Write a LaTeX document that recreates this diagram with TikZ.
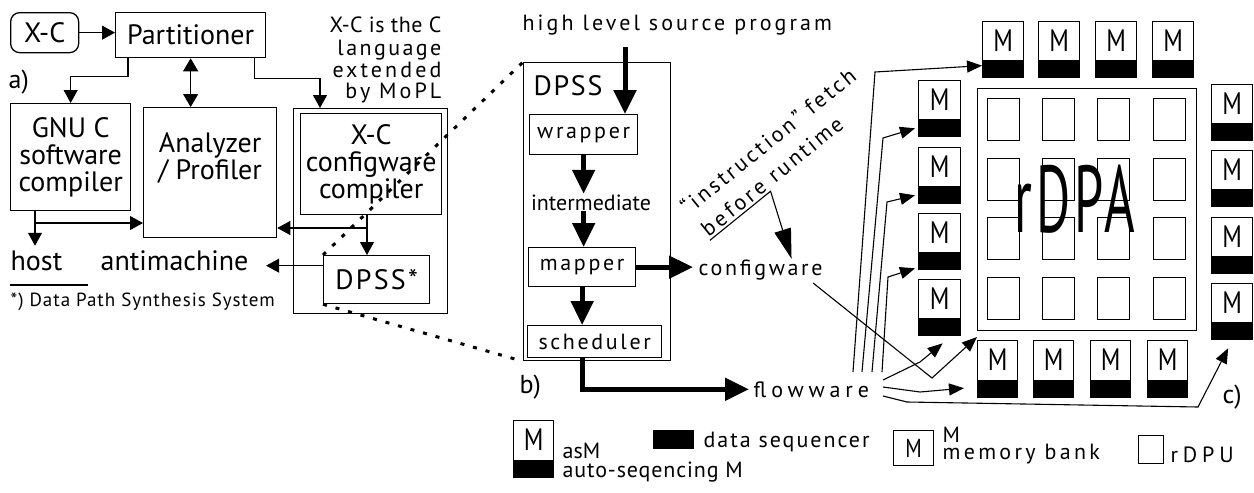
\documentclass[tikz,border=0pt]{standalone}
\usepackage{graphicx}
\usepackage{fontspec}
\setmainfont{PT Sans}
\usetikzlibrary{arrows.meta,calc}
\newcommand\fs[2]{\fontsize{#1}{#2}\selectfont}
\newcommand\ls[1]{\addfontfeatures{LetterSpace=#1}}
\newcommand\Mch{\scalebox{0.8}[1]{\fs{31}{31}M}}
\newcommand\Msm{\scalebox{0.8}[1]{\fs{26}{26}M}}
\newcommand\asmb[5]{%
  \node[boxst,minimum width=#4,minimum height=#5] (#1) at (#2,#3) {};
  \fill (#1.south west) rectangle ([yshift=18pt]#1.south east);
  \node[txt] at ([yshift=-19.5pt]#1.north) {\Mch};}
\begin{document}
\begin{tikzpicture}[x=1pt,y=-1pt,line width=1.3pt,
  boxst/.style={draw,inner sep=0pt,anchor=north west,align=center},
  txt/.style={inner sep=0pt},
  arr/.style={line width=1.1pt,-{Triangle[length=13pt,width=14pt]}},
  darr/.style={line width=1.1pt,{Triangle[length=13pt,width=15pt]}-{Triangle[length=13pt,width=15pt]}},
  arrs/.style={line width=1.1pt,-{Triangle[length=15pt,width=12pt]}},
  tarr/.style={line width=5pt,-{Triangle[length=24pt,width=22pt]}},
  dotl/.style={line width=3pt,dash pattern=on 4pt off 9pt},
  fbig/.style={font=\fs{28}{27}},
  fmid/.style={font=\fs{22}{22}},
]
\useasboundingbox (0,0) rectangle (1254,493);
% ---------------- panel a
\node[boxst,rounded corners=9pt,minimum width=68pt,minimum height=40pt,fbig] (xc) at (10,12) {X-C};
\node[boxst,minimum width=150pt,minimum height=45pt,fbig] (part) at (115,12) {Partitioner};
\node[txt,anchor=base west,font=\fs{26}{26}] (la) at (8,88) {a)};
\node[boxst,minimum width=120pt,minimum height=107pt,fbig] (gnu) at (10,103) {GNU C\\software\\compiler};
\node[boxst,minimum width=133pt,minimum height=130pt,fbig] (ana) at (143,107) {Analyzer\\/ Profiler\\[6pt]};
\node[boxst,minimum width=154pt,minimum height=205pt] (xcc) at (293,108) {};
\node[boxst,minimum width=141pt,minimum height=101pt,fbig] (xcci) at (300,113) {X-C\\configware\\compiler};
\node[boxst,minimum width=106pt,minimum height=48pt,fbig] (dpss) at (323,255) {\ls{8}DPSS*};
\node[txt,anchor=base east,fmid] (n1) at (442,32) {\ls{2}X-C is the C};
\node[txt,anchor=base east,fmid] (n2) at (442,55) {\ls{11}language};
\node[txt,anchor=base east,fmid] (n3) at (442,77) {\ls{14}extended};
\node[txt,anchor=base east,fmid] (n4) at (442,98) {\ls{14}by MoPL};
\node[txt,anchor=base west,fbig] (host) at (10,270) {host};
\node[txt,anchor=base west,fbig] (anti) at (100,270) {antimachine};
\node[txt,anchor=base west,font=\fs{19}{19}\ls{5}] (fn) at (10,306) {*) Data Path Synthesis System};
\draw[line width=1.1pt] (10,285) -- (88,285);
\draw[arr] (xc.east) -- (xc.east -| part.west);
\draw[arr] ([xshift=13pt]part.south west) -- ++(0,18) -| (gnu.north);
\draw[darr] (part.south) -- (part.south |- ana.north);
\draw[arr] ([xshift=-12pt]part.south east) -- ++(0,20) -| ([xshift=27pt]xcc.north west);
\coordinate (j1) at (35,223);
\draw[arr] (j1 |- gnu.south) -- ([yshift=4pt]j1 |- host.north);
\draw[arr] (j1) -- (j1 -| ana.west);
\coordinate (j2) at (367,228);
\draw[arr] (j2 |- xcci.south) -- (j2 |- dpss.north);
\draw[arr] (j2) -- (j2 -| ana.east);
\coordinate (j3) at ([yshift=14pt]dpss.west);
\draw[arr] (j3) -- ([xshift=17pt]anti.east |- j3);
% ---------------- panel b
\node[txt,anchor=base west,fmid] (src) at (522,30) {\ls{14}high level source program};
\node[boxst,minimum width=147pt,minimum height=298pt] (bx) at (523,62) {};
\node[txt,anchor=base west,fbig] (dl) at (533,95) {\ls{6}DPSS};
\node[boxst,minimum width=108pt,minimum height=40pt,fmid] (wrap) at (529,114) {\ls{12}wrapper};
\node[txt,anchor=base,fmid] (inter) at (591,210) {intermediate};
\node[boxst,minimum width=107pt,minimum height=39pt,fmid] (map) at (528,247) {\ls{12}mapper};
\node[boxst,minimum width=134pt,minimum height=32pt,fmid] (sch) at (527,325) {\ls{12}scheduler};
\node[txt,anchor=base west,fmid] (cfg) at (698,275) {\ls{12}configware};
\node[txt,anchor=base west,fmid,inner sep=4pt] (fw) at (749,397) {\ls{22}flowware};
\node[txt,anchor=base west,font=\fs{26}{26}] (lb) at (519,393) {b)};
\draw[dotl] (dpss.north west) -- (bx.north west);
\draw[dotl] (dpss.south west) -- (bx.south west);
\coordinate (s1) at (625,47);
\draw[tarr] (s1) -- (s1 |- wrap.north);
\draw[tarr] (wrap.south) -- (wrap.south |- inter.north);
\draw[tarr] (wrap.south |- inter.south) -- (wrap.south |- map.north);
\draw[tarr] (map.south) -- (map.south |- sch.north);
\draw[tarr] (map.east) -- ([xshift=-5pt]map.east -| cfg.west);
\draw[tarr] (map.south |- sch.south) -- (map.south |- fw.west) -- (fw.west);
\node[txt,anchor=base west,rotate=39,fmid] (ins) at (688,216) {\ls{13}“instruction” fetch};
\node[txt,anchor=base west,rotate=39,fmid] (bef) at (708,238) {\ls{15}before};
\node[txt,anchor=base west,rotate=39,fmid] (rt) at ([shift={(39:8pt)}]bef.base east) {\ls{12}runtime};
\draw[line width=1.1pt,-{Triangle[length=30pt,width=17pt]}] ([shift={(-51:3pt)}]bef.base west) -- ([shift={(-51:3pt)}]bef.base east) -- ([xshift=31pt]cfg.north);
% ---------------- panel c
\node[boxst,minimum width=219pt,minimum height=242pt] (rdpa) at (977,88) {};
\foreach \c/\x in {1/987,2/1042,3/1097,4/1153}{
  \foreach \r/\y in {1/98,2/158,3/217,4/277}{
    \node[boxst,minimum width=32pt,minimum height=42pt] (u\r\c) at (\x,\y) {};
  }
}
\node[txt,anchor=base] (rdpat) at (1075,232) {\scalebox{0.55}[1]{\fs{95}{95}\ls{8}rDPA}};
\asmb{t1}{982}{21}{41pt}{56pt}
\asmb{t2}{1038}{21}{41pt}{56pt}
\asmb{t3}{1095}{21}{41pt}{56pt}
\asmb{t4}{1152}{21}{41pt}{56pt}
\asmb{l1}{918}{80}{42pt}{56pt}
\asmb{l2}{918}{147}{42pt}{56pt}
\asmb{l3}{918}{213}{42pt}{56pt}
\asmb{l4}{918}{279}{42pt}{56pt}
\asmb{r1}{1211}{84}{41pt}{56pt}
\asmb{r2}{1211}{150}{41pt}{56pt}
\asmb{r3}{1211}{217}{41pt}{56pt}
\asmb{r4}{1211}{283}{41pt}{56pt}
\asmb{b1}{977}{340}{40pt}{57pt}
\asmb{b2}{1033}{340}{40pt}{57pt}
\asmb{b3}{1090}{340}{40pt}{57pt}
\asmb{b4}{1147}{340}{40pt}{57pt}
\node[txt,anchor=base west,font=\fs{26}{26}] (lc) at (1222,403) {c)};
\coordinate (fA) at (853,372); \coordinate (kA) at (875,72);
\draw[arrs] (fA) -- (kA) -- ([yshift=-16pt]t1.west);
\coordinate (fB) at (862,372); \coordinate (kB) at (883,138);
\draw[arrs] (fB) -- (kB) -- ([shift={(-3pt,9pt)}]l1.south west);
\coordinate (fC) at (872,372); \coordinate (kC) at (887,202);
\draw[arrs] (fC) -- (kC) -- ([shift={(-3pt,9pt)}]l2.south west);
\coordinate (fD) at (882,372); \coordinate (kD) at (888,277);
\draw[arrs] (fD) -- (kD) -- ([shift={(-3pt,2pt)}]l3.south west);
\draw[arrs] (883,380) -- (920,362) -- ([shift={(3pt,-7pt)}]l4.south);
\draw[arrs] ([shift={(-10pt,-8pt)}]cfg.base east) -- (932,378) -- ([yshift=3pt]b1.north west);
\draw[arrs] (883,387) -- (920,392) -- ([shift={(-13pt,-19pt)}]b1.west);
\draw[arrs] (883,396) -- (907,402) -- (1198,407) -- ([shift={(-4pt,-8pt)}]r4.south);
% ---------------- legend
\asmb{lgM}{513}{420}{40pt}{57pt}
\node[txt,anchor=base west,fmid] (lg1) at (562,458) {asM};
\node[txt,anchor=base west,fmid] (lg2) at (562,477) {\ls{4}auto-seqencing M};
\node[draw,fill=black,inner sep=0pt,anchor=north west,minimum width=40pt,minimum height=18pt] (ds) at (653,430) {};
\node[txt,anchor=base west,fmid] (lg3) at (703,447) {\ls{9}data sequencer};
\node[boxst,minimum width=40pt,minimum height=35pt] (mb) at (893,430) {\Msm};
\node[txt,anchor=base west,fmid] (lg4) at (942,442) {M};
\node[txt,anchor=base west,fmid] (lg5) at (942,459) {\ls{15}memory bank};
\node[boxst,minimum width=25pt,minimum height=28pt] (ru) at (1138,435) {};
\node[txt,anchor=base west,fmid] (lg6) at (1170,462) {\ls{22}rDPU};
\end{tikzpicture}
\end{document}
